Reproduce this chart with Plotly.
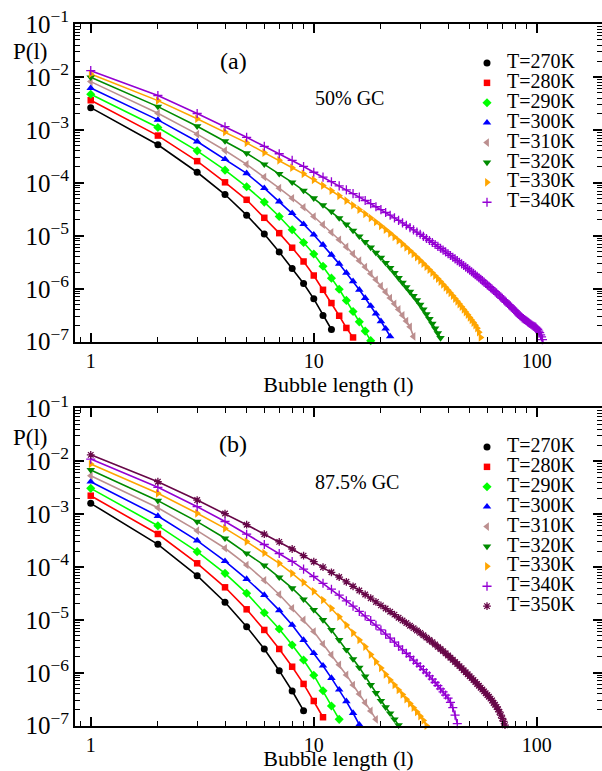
import math
import plotly.graph_objects as go

FONT = "Liberation Serif, Times New Roman, serif"
W, H = 602, 771

# ---------------- data (log10 P(l), l = 1, 2, 3, ...) ----------------
names_a = ["T=270K", "T=280K", "T=290K", "T=300K", "T=310K", "T=320K", "T=330K", "T=340K"]
names_b = ["T=270K", "T=280K", "T=290K", "T=300K", "T=310K", "T=320K", "T=330K", "T=340K", "T=350K"]
x_title = "Bubble length (l)"

A270 = [-2.58, -3.28, -3.80, -4.22, -4.61, -4.965, -5.305, -5.617, -5.90, -6.19, -6.505, -6.77]
A280 = [-2.44, -3.107, -3.59, -3.99, -4.32, -4.66, -4.95, -5.225, -5.485, -5.75, -6.02, -6.27, -6.51, -6.74, -6.92]
A290 = [-2.327, -2.956, -3.396, -3.76, -4.075, -4.364, -4.635, -4.887, -5.126, -5.345, -5.575, -5.80, -6.01,
        -6.22, -6.43, -6.625, -6.80, -6.98]
A300 = [-2.21, -2.811, -3.22, -3.553, -3.82, -4.10, -4.353, -4.572, -4.78, -4.98, -5.17, -5.36, -5.53, -5.70,
        -5.86, -6.02, -6.175, -6.325, -6.47, -6.615, -6.755, -6.90]
A310 = [-2.088, -2.685, -3.08, -3.39, -3.65, -3.89, -4.10, -4.29, -4.46, -4.635, -4.79, -4.935, -5.075, -5.21,
        -5.34, -5.47, -5.59, -5.715, -5.83, -5.95, -6.06, -6.175, -6.285, -6.39, -6.50, -6.61, -6.72, -6.90]
A320 = [-2.006, -2.56, -2.93, -3.21, -3.44, -3.65, -3.83, -3.99, -4.145, -4.29, -4.42, -4.54, -4.665, -4.785,
        -4.90, -5.01, -5.115, -5.22, -5.32, -5.41, -5.51, -5.605, -5.70, -5.795, -5.885, -5.97, -6.055, -6.135,
        -6.215, -6.30, -6.39, -6.48, -6.57, -6.66, -6.75, -6.84, -6.93]
A330 = [-1.943, -2.447, -2.789, -3.042, -3.245, -3.43, -3.575, -3.715, -3.83, -3.943, -4.05, -4.15, -4.245,
        -4.336, -4.423, -4.506, -4.586, -4.664, -4.74, -4.813, -4.884, -4.954, -5.022, -5.089, -5.154, -5.219,
        -5.282, -5.344, -5.405, -5.465, -5.524, -5.583, -5.64, -5.697, -5.754, -5.81, -5.865, -5.919, -5.974,
        -6.027, -6.08, -6.133, -6.185, -6.237, -6.289, -6.34, -6.391, -6.441, -6.491, -6.541, -6.59, -6.639,
        -6.688, -6.745, -6.82, -6.92]
A340 = [-1.881, -2.35, -2.69, -2.94, -3.14, -3.31, -3.45, -3.575, -3.69, -3.80, -3.892, -3.978, -4.058, -4.132,
        -4.203, -4.269, -4.333, -4.393, -4.451, -4.506, -4.56, -4.611, -4.661, -4.709, -4.756, -4.801, -4.846,
        -4.889, -4.931, -4.971, -5.011, -5.051, -5.089, -5.126, -5.163, -5.199, -5.235, -5.27, -5.304, -5.338,
        -5.371, -5.404, -5.436, -5.468, -5.499, -5.53, -5.56, -5.591, -5.62, -5.65, -5.679, -5.708, -5.736,
        -5.764, -5.792, -5.82, -5.847, -5.874, -5.901, -5.928, -5.954, -5.98, -6.006, -6.032, -6.057, -6.083,
        -6.108, -6.133, -6.157, -6.182, -6.206, -6.231, -6.255, -6.279, -6.302, -6.326, -6.349, -6.373, -6.396,
        -6.419, -6.442, -6.465, -6.487, -6.51, -6.53, -6.55, -6.565, -6.58, -6.595, -6.61, -6.625, -6.64,
        -6.655, -6.67, -6.685, -6.70, -6.71, -6.72, -6.73, -6.75, -6.77, -6.80, -6.83, -6.87, -6.91, -6.96, -7.02]

B270 = [-2.796, -3.571, -4.164, -4.667, -5.128, -5.55, -5.96, -6.344, -6.716]
B280 = [-2.652, -3.376, -3.93, -4.384, -4.80, -5.19, -5.55, -5.885, -6.21, -6.533, -6.84]
B290 = [-2.513, -3.219, -3.71, -4.12, -4.497, -4.864, -5.172, -5.475, -5.758, -6.045, -6.34, -6.628, -6.88]
B300 = [-2.387, -3.036, -3.50, -3.89, -4.227, -4.53, -4.82, -5.096, -5.38, -5.63, -5.866, -6.10, -6.32, -6.54,
        -6.76, -6.98]
B310 = [-2.274, -2.879, -3.313, -3.646, -3.962, -4.25, -4.52, -4.78, -5.0, -5.22, -5.455, -5.66, -5.85, -6.04,
        -6.23, -6.40, -6.565, -6.72, -6.88]
B320 = [-2.166, -2.746, -3.143, -3.457, -3.741, -3.97, -4.195, -4.40, -4.61, -4.81, -5.0, -5.19, -5.38, -5.565,
        -5.74, -5.90, -6.07, -6.23, -6.38, -6.53, -6.65, -6.765, -6.88, -6.99]
B330 = [-2.053, -2.607, -2.985, -3.27, -3.52, -3.735, -3.93, -4.12, -4.29, -4.46, -4.624, -4.78, -4.94, -5.096,
        -5.245, -5.38, -5.506, -5.655, -5.79, -5.91, -6.03, -6.136, -6.23, -6.325, -6.41, -6.50, -6.58, -6.66,
        -6.74, -6.82, -6.90, -7.0]
B340 = [-1.96, -2.494, -2.86, -3.14, -3.38, -3.575, -3.745, -3.895, -4.04, -4.18, -4.308, -4.42, -4.53, -4.64,
        -4.74, -4.84, -4.925, -5.01, -5.10, -5.19, -5.27, -5.345, -5.42, -5.495, -5.565, -5.63, -5.695, -5.76,
        -5.82, -5.88, -5.94, -6.0, -6.059, -6.121, -6.183, -6.243, -6.303, -6.362, -6.421, -6.48, -6.56, -6.66,
        -6.80, -6.96]
B350 = [-1.88, -2.387, -2.735, -2.99, -3.20, -3.38, -3.525, -3.66, -3.785, -3.90, -4.003, -4.10, -4.19, -4.28,
        -4.365, -4.445, -4.52, -4.59, -4.66, -4.725, -4.785, -4.845, -4.90, -4.96, -5.01, -5.06, -5.11, -5.155,
        -5.20, -5.245, -5.29, -5.335, -5.38, -5.42, -5.465, -5.51, -5.55, -5.59, -5.632, -5.673, -5.714, -5.755,
        -5.795, -5.835, -5.874, -5.912, -5.951, -5.989, -6.027, -6.064, -6.101, -6.137, -6.174, -6.21, -6.246,
        -6.281, -6.316, -6.351, -6.386, -6.42, -6.454, -6.488, -6.522, -6.57, -6.605, -6.645, -6.69, -6.74,
        -6.80, -6.86, -6.92, -6.99]

series_a = [A270, A280, A290, A300, A310, A320, A330, A340]
series_b = [B270, B280, B290, B300, B310, B320, B330, B340, B350]

x_ticks = [1, 10, 100]
y_range_log = [-7, -1]
x_range = [0.85, 196]

# ---------------- styles ----------------
colors = ["#000000", "#ff0000", "#00ff00", "#0000ff", "#bc8f8f", "#008b00", "#ffa500", "#9400d3", "#670748"]
symbols = ["circle", "square", "diamond", "triangle-up", "triangle-left", "triangle-down",
           "triangle-right", "cross-thin-open", "asterisk-open"]
msizes = [7, 6.5, 7, 7.5, 7.5, 7.5, 7.5, 6.5, 6.5]

fig = go.Figure()


def add_panel(series, names, xa, ya, legend):
    for i, logp in enumerate(series):
        l = list(range(1, len(logp) + 1))
        p = [10 ** v for v in logp]
        fig.add_trace(go.Scatter(x=l, y=p, mode="lines", line=dict(color=colors[i], width=1.6),
                                 showlegend=False, hoverinfo="skip", xaxis=xa, yaxis=ya))
    for i, logp in enumerate(series):
        l = list(range(1, len(logp) + 1))
        p = [10 ** v for v in logp]
        is_open = symbols[i].endswith("open")
        fig.add_trace(go.Scatter(
            x=l, y=p, mode="markers", xaxis=xa, yaxis=ya, legend=legend, cliponaxis=False,
            name='<span style="font-size:20px">%s</span>' % names[i],
            marker=dict(symbol=symbols[i], size=msizes[i], color=colors[i],
                        line=dict(color=colors[i], width=1.3 if is_open else 0))))


add_panel(series_a, names_a, "x", "y", "legend")
add_panel(series_b, names_b, "x2", "y2", "legend2")


def xp(px):
    return px / W


def yp(py):
    return 1 - py / H


tickfont = dict(family=FONT, size=20, color="black")
xcommon = dict(type="log", range=[math.log10(x_range[0]), math.log10(x_range[1])],
               tickvals=x_ticks, ticktext=[str(v) for v in x_ticks],
               ticks="inside", ticklen=9, tickwidth=1.5, tickcolor="black",
               showline=True, linecolor="black", linewidth=2, mirror="ticks",
               showgrid=False, zeroline=False, tickfont=tickfont, automargin=False,
               minor=dict(ticks="inside", ticklen=5, tickwidth=1.2, tickcolor="black", dtick="D1", showgrid=False),
               title=dict(text=x_title, font=dict(family=FONT, size=22, color="black"), standoff=4))
ycommon = dict(type="log", range=y_range_log, dtick=1, exponentformat="power", showexponent="all",
               ticks="inside", ticklen=9, tickwidth=1.5, tickcolor="black",
               showline=True, linecolor="black", linewidth=2, mirror="ticks",
               showgrid=False, zeroline=False, tickfont=tickfont, automargin=False,
               minor=dict(ticks="inside", ticklen=5, tickwidth=1.2, tickcolor="black", dtick="D1", showgrid=False))

fig.update_layout(
    width=W, height=H, margin=dict(l=0, r=0, t=0, b=0),
    paper_bgcolor="white", plot_bgcolor="white",
    font=dict(family=FONT, color="black"),
    xaxis=dict(domain=[xp(75), 1.0], anchor="y", **xcommon),
    yaxis=dict(domain=[yp(341.7), yp(24)], anchor="x", **ycommon),
    xaxis2=dict(domain=[xp(75), 1.0], anchor="y2", **xcommon),
    yaxis2=dict(domain=[yp(725.7), yp(408.3)], anchor="x2", **ycommon),
    legend=dict(x=xp(467), y=yp(48), xanchor="left", yanchor="top", bgcolor="rgba(0,0,0,0)",
                font=dict(family=FONT, size=13, color="black"), tracegroupgap=0),
    legend2=dict(x=xp(467), y=yp(432), xanchor="left", yanchor="top", bgcolor="rgba(0,0,0,0)",
                 font=dict(family=FONT, size=13, color="black"), tracegroupgap=0),
    showlegend=True,
)

ann = [
    ("P(l)", 30, 52, 23), ("(a)", 233, 61, 24), ("50% GC", 349, 98, 20),
    ("P(l)", 30, 437, 23), ("(b)", 233, 444, 24), ("87.5% GC", 357, 482, 20),
]
for text, x, y, s in ann:
    fig.add_annotation(text=text, x=xp(x), y=yp(y), xref="paper", yref="paper", showarrow=False,
                       xanchor="center", yanchor="middle", font=dict(family=FONT, size=s, color="black"))

fig.write_html("out.html")
